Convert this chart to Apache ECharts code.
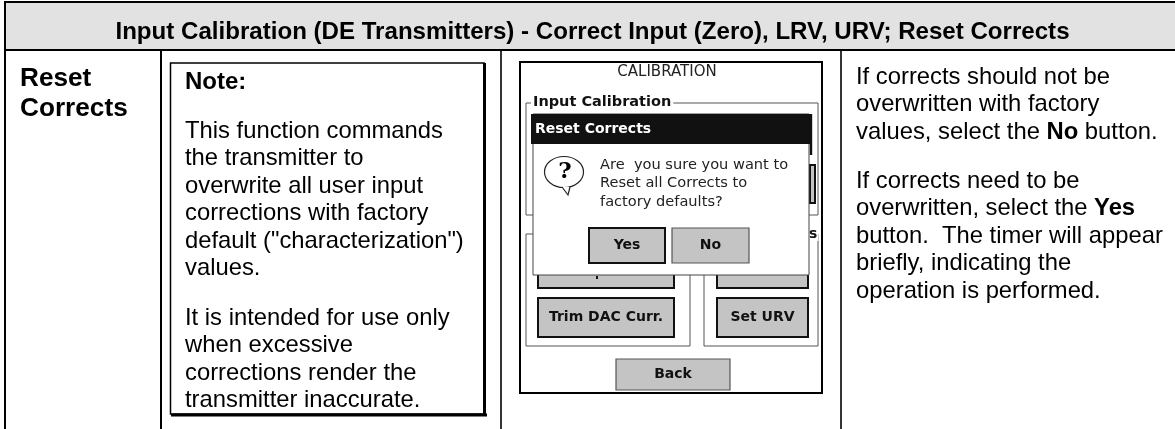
<!DOCTYPE html>
<html><head><meta charset="utf-8">
<style>html,body{margin:0;padding:0;background:#fff}#c{width:1175px;height:429px}</style>
<script src="https://cdn.jsdelivr.net/npm/echarts@6/dist/echarts.min.js"></script>
</head><body><div id="c"></div>
<script>
const titleText = "Input Calibration (DE Transmitters) - Correct Input (Zero), LRV, URV; Reset Corrects";
const rowLabel = ["Reset", "Corrects"];
const noteHeading = "Note:";
const notePara1 = ["This function commands", "the transmitter to", "overwrite all user input", "corrections with factory", "default (\"characterization\")", "values."];
const notePara2 = ["It is intended for use only", "when excessive", "corrections render the", "transmitter inaccurate."];
const rightPara1 = ["If corrects should not be", "overwritten with factory", "values, select the {b|No} button."];
const rightPara2 = ["If corrects need to be", "overwritten, select the {b|Yes}", "button.  The timer will appear", "briefly, indicating the", "operation is performed."];
const screenTitle = "CALIBRATION";
const groupLabel = "Input Calibration";
const dialogTitle = "Reset Corrects";
const dialogLines = ["Are  you sure you want to", "Reset all Corrects to", "factory defaults?"];
const buttonLabels = {yes:"Yes", no:"No", trim:"Trim DAC Curr.", urv:"Set URV", back:"Back"};

const AR = '"Liberation Sans", Arial, sans-serif';
const SC = '"DejaVu Sans", sans-serif';
const g = [];
function rect(x,y,w,h,fill,stroke,lw,z){g.push({type:'rect',shape:{x,y,width:w,height:h},style:{fill:fill||'none',stroke:stroke||'none',lineWidth:lw||0},z:z||1});}
function line(x1,y1,x2,y2,c,lw,z){g.push({type:'line',shape:{x1,y1,x2,y2},style:{stroke:c||'#000',lineWidth:lw||1},z:z||1});}
function lines(arr,x,y,lh,size,weight){arr.forEach((s,i)=>{
  g.push({type:'text',x,y:y+i*lh,z:5,style:{text:s,fontFamily:AR,fontSize:size,fontWeight:weight||'normal',fill:'#000',verticalAlign:'middle',rich:{b:{fontFamily:AR,fontSize:size,fontWeight:'bold',fill:'#000'}}}});
});}
function btn(x,y,w,h,label,heavy,z){rect(x,y,w,h,'#c4c4c4',heavy?'#111':'#555',heavy?2:1.2,z);
  if(label) g.push({type:'text',x:x+w/2,y:y+h/2,z:z+1,style:{text:label,fontFamily:SC,fontSize:14,fontWeight:'bold',fill:'#111',align:'center',verticalAlign:'middle'}});}

// table
rect(5,2,1175,48,'#e2e2e2');
line(5,2,1175,2,'#000',2); line(5,50,1175,50,'#000',2);
line(5,1,5,429,'#000',2); line(161,50,161,429,'#000',2); line(501,50,501,429,'#000',1.6); line(841,50,841,429,'#000',1.6);
g.push({type:'text',x:592.5,y:32,z:5,style:{text:titleText,fontFamily:AR,fontSize:24.1,fontWeight:'bold',fill:'#000',align:'center',verticalAlign:'middle'}});
lines([rowLabel[0]],20,79,0,26.2,'bold');
lines([rowLabel[1]],20,109,0,26.2,'bold');
// note
rect(170.5,63,313.5,351,'#fff','#000',1.5);
line(171,415,487,415,'#000',3); line(484.5,63,484.5,416,'#000',3);
lines([noteHeading],185,82,0,24,'bold');
lines(notePara1,185,131,27.5,23.8);
lines(notePara2,185,318,27.5,23.8);
// right text
lines(rightPara1,856,77,27.5,23.8);
lines(rightPara2,856,181,27.5,23.8);
// screenshot
rect(520,62,302,331,'#fff','#000',2);
g.push({type:'text',x:667,y:72,z:5,style:{text:screenTitle,fontFamily:SC,fontSize:15,fill:'#222',align:'center',verticalAlign:'middle'}});
rect(526,103,292,112,'#fff','#555',1,2);
rect(526,234,164,112,'#fff','#555',1,2);
rect(704,234,114,112,'#fff','#555',1,2);
g.push({type:'text',x:531,y:102,z:3,style:{text:groupLabel,fontFamily:SC,fontSize:14.5,fontWeight:'bold',fill:'#111',backgroundColor:'#fff',padding:[0,2],verticalAlign:'middle'}});
g.push({type:'text',x:808,y:234,z:3,style:{text:'s',fontFamily:SC,fontSize:14,fontWeight:'bold',fill:'#111',backgroundColor:'#fff',padding:[0,1],verticalAlign:'middle'}});
btn(538,240,136,48,'',true,3); btn(717,240,91,48,'',true,3);
btn(538,298,136,39,buttonLabels.trim,true,3); btn(717,298,91,39,buttonLabels.urv,true,3);
btn(616,359,114,31,buttonLabels.back,false,3);
btn(810,165,5,38,'',true,3);
rect(596,276,2,3,'#111',null,0,5);
// dialog
rect(533,114,276,161,'#fff','#444',1,10);
rect(531,114,281,30,'#111',null,0,11);
line(811,114,811,155,'#111',2.4,11);
g.push({type:'text',x:535,y:129,z:12,style:{text:dialogTitle,fontFamily:SC,fontSize:14,fontWeight:'bold',fill:'#fff',verticalAlign:'middle'}});
dialogLines.forEach((s,i)=>g.push({type:'text',x:600,y:165+i*18.5,z:12,style:{text:s,fontFamily:SC,fontSize:14.6,fill:'#222',verticalAlign:'middle'}}));
g.push({type:'ellipse',shape:{cx:564,cy:172,rx:19.5,ry:15.5},style:{fill:'#fff',stroke:'#222',lineWidth:1.2},z:12});
g.push({type:'polyline',shape:{points:[[562,187],[568,195],[570,187]]},style:{fill:'#fff',stroke:'#222',lineWidth:1.2},z:13});
g.push({type:'text',x:565,y:172,z:14,style:{text:'?',fontFamily:'"DejaVu Serif",serif',fontSize:23,fontWeight:'bold',fill:'#000',align:'center',verticalAlign:'middle'}});
btn(589,228,76,35,buttonLabels.yes,true,12); btn(672,228,77,35,buttonLabels.no,false,12);

const chart = echarts.init(document.getElementById('c'),null,{renderer:'canvas'});
chart.setOption({animation:false,backgroundColor:'#fff',graphic:{elements:g}});
</script></body></html>
